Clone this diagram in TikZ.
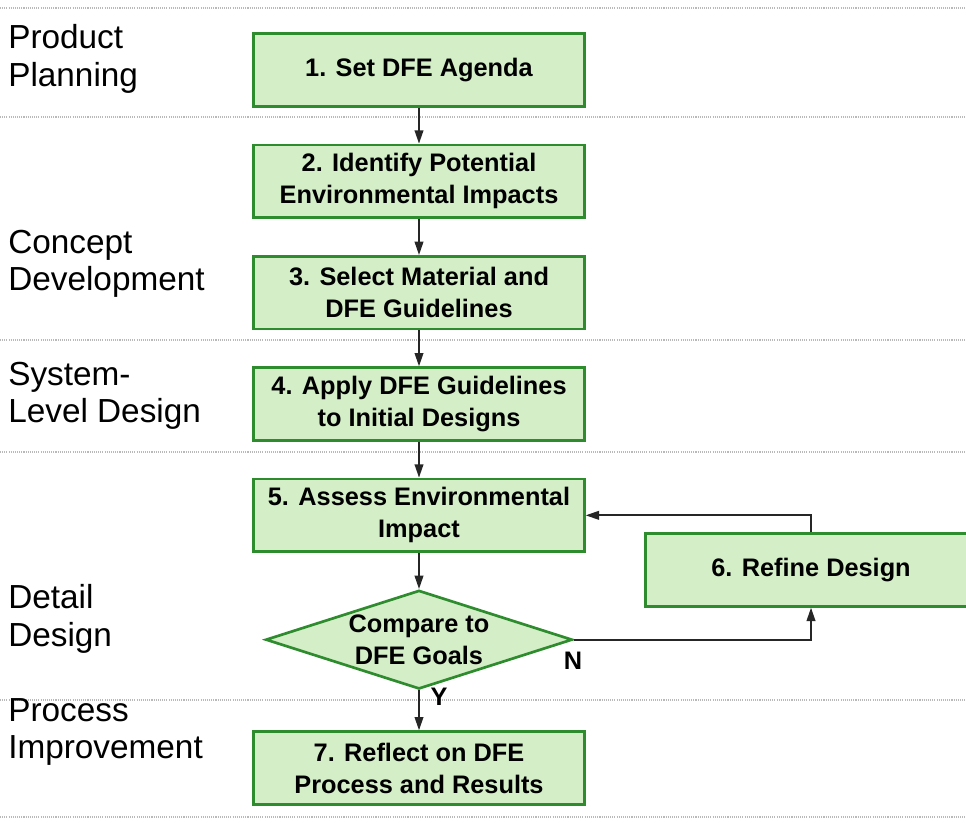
\documentclass[tikz,border=0pt]{standalone}
\usepackage{fontspec}
\setmainfont{Liberation Sans}
\usepackage{xcolor}
\usetikzlibrary{shapes.geometric, arrows.meta, positioning}

\definecolor{boxgreen}{RGB}{46,139,46}
\definecolor{boxfill}{RGB}{212,238,200}

\begin{document}
\begin{tikzpicture}[
    x=0.75pt, y=-0.75pt,
    node distance=27pt,
    every node/.style={align=center},
    stepbox/.style={rectangle, draw=boxgreen, fill=boxfill, line width=2pt, minimum width=248pt, minimum height=54.5pt, font=\fontsize{19}{24}\selectfont\bfseries},
    decision/.style={diamond, draw=boxgreen, fill=boxfill, line width=2pt, aspect=3.1, inner sep=0pt, minimum width=230pt, minimum height=74pt, font=\fontsize{19}{24}\selectfont\bfseries},
    phase/.style={anchor=west, align=left, inner sep=0pt, font=\fontsize{25}{28}\selectfont},
    answer/.style={inner sep=0pt, font=\fontsize{19}{24}\selectfont\bfseries},
    arrow/.style={-{Triangle[length=10pt, width=6.5pt]}, line width=1.3pt, draw=black!85},
    sep/.style={gray!55, line width=1pt, dash pattern=on 0.8pt off 0.8pt}
]
\clip (0,0) rectangle (966,823);

% phase separators
\foreach \y in {8,117,340,452,700,817}
    \draw [sep] (0,\y) -- (966,\y);

% Phase names
\node (pp) [phase] at (8,59) {Product\\Planning};
\node (cd) [phase] at (8,264) {Concept\\Development};
\node (sl) [phase] at (8,396) {System-\\Level Design};
\node (dd) [phase] at (8,619) {Detail\\Design};
\node (pi) [phase] at (8,732) {Process\\Improvement};

% DFE steps
\node (s1) [stepbox] at (419,70) {1. Set DFE Agenda};
\node (s2) [stepbox, below=of s1] {2. Identify Potential\\Environmental Impacts};
\node (s3) [stepbox, below=of s2] {3. Select Material and\\DFE Guidelines};
\node (s4) [stepbox, below=of s3] {4. Apply DFE Guidelines\\to Initial Designs};
\node (s5) [stepbox, below=of s4] {5. Assess Environmental\\Impact};
\node (cmp) [decision, below=of s5] {Compare to\\DFE Goals};
\node (s7) [stepbox, below=30pt of cmp] {7. Reflect on DFE\\Process and Results};
\node (s6) [stepbox] at (811,570) {6. Refine Design};

\node (no) [answer] at (573,661) {N};
\node (yes) [answer] at (439,697) {Y};

% Flow
\draw [arrow] (s1) -- (s2);
\draw [arrow] (s2) -- (s3);
\draw [arrow] (s3) -- (s4);
\draw [arrow] (s4) -- (s5);
\draw [arrow] (s5) -- (cmp);
\draw [arrow] (cmp) -- (s7);
\draw [arrow] (cmp.east) -| (s6.south);
\draw [arrow] (s6.north) |- (s5.east);

\end{tikzpicture}
\end{document}
